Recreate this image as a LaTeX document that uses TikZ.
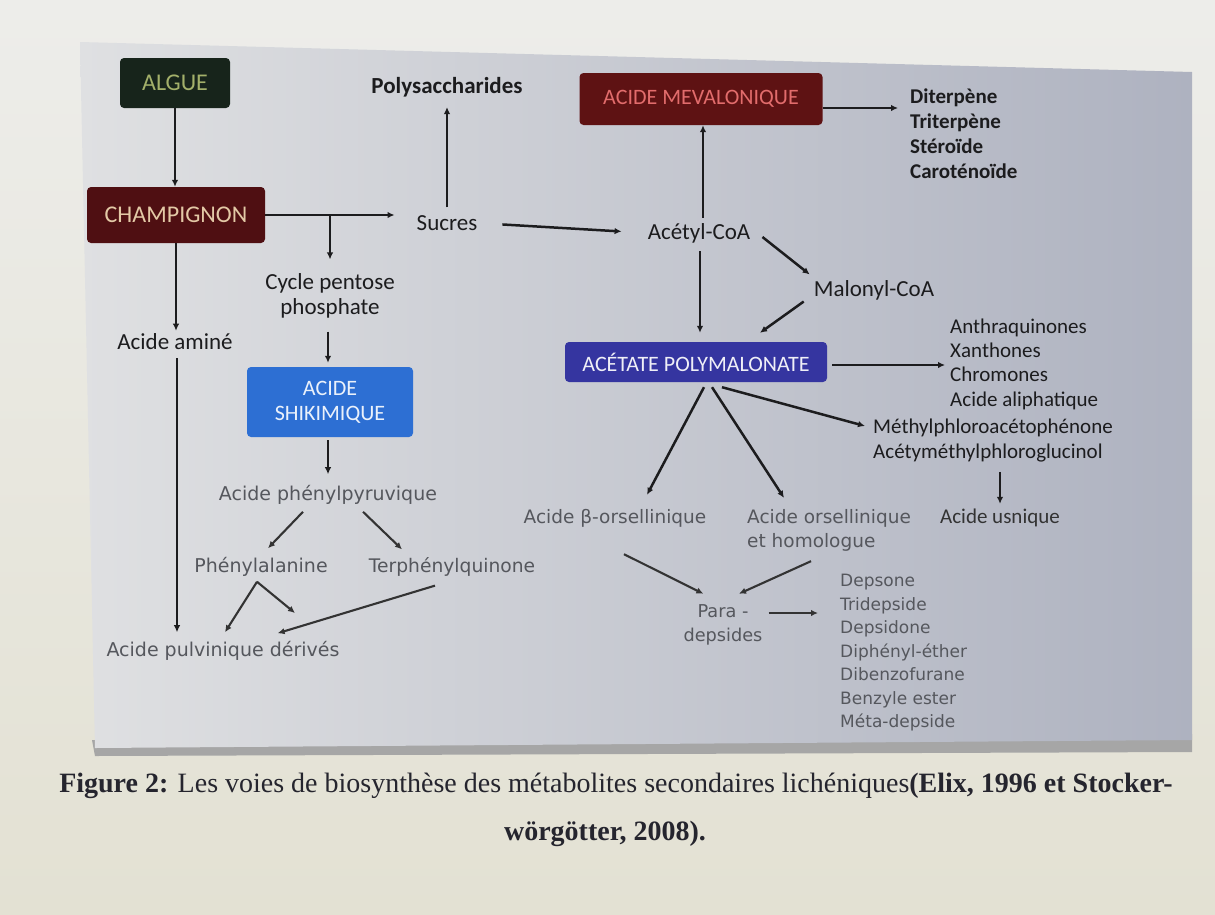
\documentclass[tikz,border=0pt]{standalone}
\usepackage{fontspec}
\setmainfont{Carlito}
\newfontfamily\dvs{DejaVu Sans}
\newfontfamily\capfont{Liberation Serif}
\usetikzlibrary{arrows.meta}
\definecolor{outtop}{HTML}{EDEDEA}
\definecolor{outbot}{HTML}{E3E1D3}
\definecolor{panL}{HTML}{DFE0E2}
\definecolor{panR}{HTML}{AEB2C0}
\definecolor{algfill}{HTML}{17241B}
\definecolor{algtext}{HTML}{A3B06A}
\definecolor{chfill}{HTML}{4F0F12}
\definecolor{chtext}{HTML}{E3C9A6}
\definecolor{mevfill}{HTML}{5E1213}
\definecolor{mevtext}{HTML}{E26C6C}
\definecolor{acpfill}{HTML}{3535A0}
\definecolor{shikfill}{HTML}{2D6FD3}
\definecolor{darktxt}{HTML}{1C1C1E}
\definecolor{greytxt}{HTML}{55575D}
\definecolor{captxt}{HTML}{25252E}
\begin{document}
\begin{tikzpicture}[x=1pt,y=-1pt,
  box/.style={rounded corners=4pt, inner sep=0pt, align=center},
  lbl/.style={inner sep=0pt, text=darktxt, font=\fontsize{23pt}{25pt}\selectfont, align=center},
  blbl/.style={inner sep=0pt, text=darktxt, font=\fontsize{23pt}{25pt}\selectfont\bfseries},
  lst/.style={inner sep=0pt, text=darktxt, align=left},
  glbl/.style={inner sep=0pt, text=greytxt, font=\dvs\fontsize{19pt}{24pt}\selectfont, align=left},
  arr/.style={line width=2.5pt, draw=darktxt, -{Latex[length=7pt,width=6.5pt]}},
  garr/.style={line width=2.1pt, draw=black!80, -{Latex[length=7pt,width=6.5pt]}}
]
\useasboundingbox (0,0) rectangle (1215,914);
% background (screen photo)
\shade[top color=outtop, bottom color=outbot] (0,0) rectangle (1215,914);
\fill[black!35] (92,740) -- (1192,734) -- (1192,752) -- (95,756) -- cycle;
\shade[left color=panL, right color=panR] (80,42) -- (1192,72) -- (1192,740) -- (95,748) -- cycle;

% boxes
\node[box, fill=algfill, text=algtext, minimum width=110pt, minimum height=50pt,
      font=\fontsize{24pt}{26pt}\selectfont] (algue) at (175,83) {ALGUE};
\node[box, fill=chfill, text=chtext, minimum width=178pt, minimum height=56pt,
      font=\fontsize{24pt}{26pt}\selectfont] (champ) at (176,215) {CHAMPIGNON};
\node[box, fill=mevfill, text=mevtext, minimum width=243pt, minimum height=52pt,
      font=\fontsize{22pt}{24pt}\selectfont] (mev) at (701,99) {ACIDE MEVALONIQUE};
\node[box, fill=acpfill, text=white!92!acpfill, minimum width=262pt, minimum height=40pt,
      font=\fontsize{22pt}{24pt}\selectfont] (acp) at (696,362) {ACÉTATE POLYMALONATE};
\node[box, fill=shikfill, text=white!90!shikfill, minimum width=166pt, minimum height=70pt,
      font=\fontsize{22pt}{25pt}\selectfont] (shik) at (330,402) {ACIDE\\SHIKIMIQUE};

% upper labels
\node[blbl] (poly) at (447,87) {Polysaccharides};
\node[lbl] (sucres) at (447,223) {Sucres};
\node[lbl] (acetyl) at (699,233) {Acétyl-CoA};
\node[lbl] (malonyl) at (874,290) {Malonyl-CoA};
\node[lbl] (cycle) at (330,296) {Cycle pentose\\phosphate};
\node[lbl] (amine) at (175,342) {Acide aminé};
\node[lst, anchor=west, font=\fontsize{21pt}{25pt}\selectfont\bfseries] (diterp) at (910,134)
  {Diterpène\\Triterpène\\Stéroïde\\Caroténoïde};
\node[lst, anchor=west, font=\fontsize{21pt}{24.3pt}\selectfont] (anthra) at (950,364)
  {Anthraquinones\\Xanthones\\Chromones\\Acide aliphatique};
\node[lst, anchor=west, font=\fontsize{21pt}{25pt}\selectfont] (methyl) at (873,441)
  {Méthylphloroacétophénone\\Acétyméthylphloroglucinol};
\node[lst, text=black!80, font=\fontsize{21pt}{25pt}\selectfont] (usnique) at (1000,518) {Acide usnique};

% lower grey labels
\node[glbl, font=\dvs\fontsize{18.5pt}{24pt}\selectfont] (borsel) at (615,518) {Acide β-orsellinique};
\node[glbl, anchor=west, font=\dvs\fontsize{18.5pt}{24pt}\selectfont] (orsel) at (747,530) {Acide orsellinique\\et homologue};
\node[glbl, align=center, font=\dvs\fontsize{17.7pt}{23.5pt}\selectfont] (para) at (723,625) {Para -\\depsides};
\node[glbl, anchor=west, font=\dvs\fontsize{17pt}{23.5pt}\selectfont] (deps) at (840,653)
  {Depsone\\Tridepside\\Depsidone\\Diphényl-éther\\Dibenzofurane\\Benzyle ester\\Méta-depside};
\node[glbl] (phpyr) at (328,495) {Acide phénylpyruvique};
\node[glbl] (phal) at (261,567) {Phénylalanine};
\node[glbl, font=\dvs\fontsize{18.7pt}{24pt}\selectfont] (terph) at (452,567) {Terphénylquinone};
\node[glbl] (pulv) at (223,651) {Acide pulvinique dérivés};
\coordinate (phx) at (295,613);

% connectors - upper part
\draw[arr] (algue.south) -- (algue.south |- champ.north);
\draw[arr, shorten >=22pt] (champ.east) -- (champ.east -| sucres.west);
\coordinate (br) at (champ.east -| cycle.north);
\draw[arr] (br) -- ([yshift=14pt]cycle.north);
\draw[arr, shorten <=8pt, shorten >=10pt] (sucres.north) -- (poly.south);
\draw[arr, shorten <=25pt, shorten >=26pt] (sucres.east) -- (acetyl.west);
\draw[arr, shorten <=5pt] ([xshift=4pt]acetyl.north) -- ([xshift=4pt]acetyl.north |- mev.south);
\draw[arr, shorten <=8pt, shorten >=9pt] ([xshift=1pt]acetyl.south) -- ([xshift=1pt]acetyl.south |- acp.north);
\draw[arr] ([xshift=12pt,yshift=-4pt]acetyl.east) -- ([xshift=-4pt,yshift=5.5pt]malonyl.north west);
\draw[arr] ([xshift=-10pt,yshift=-1.5pt]malonyl.south west) -- ([xshift=64pt,yshift=9pt]acp.north);
\draw[arr, shorten >=12pt] ([yshift=-9pt]mev.east) -- ([yshift=-9pt]mev.east -| diterp.west);
\draw[arr, shorten <=5pt, shorten >=5pt] ([yshift=-3pt]acp.east) -- ([yshift=-3pt]acp.east -| anthra.west);
\draw[arr] ([xshift=26pt,yshift=-5pt]acp.south) -- ([xshift=-8pt,yshift=15pt]methyl.west);
\draw[arr, shorten <=9pt, shorten >=5pt] (usnique.north |- methyl.south) -- (usnique.north);
\draw[arr, shorten >=3pt] (champ.south) -- (champ.south |- amine.north);
\draw[arr, shorten <=8pt, shorten >=9pt] ([xshift=2pt]amine.south) -- ([xshift=2pt]amine.south |- pulv.north);
\draw[arr, shorten <=13pt, shorten >=4pt] ([xshift=-2pt]cycle.south) -- ([xshift=-2pt]cycle.south |- shik.north);
\draw[arr, shorten <=3pt, shorten >=11pt] ([xshift=-2pt]shik.south) -- ([xshift=-2pt]shik.south |- phpyr.north);

% connectors - acetate branch
\draw[arr] ([xshift=8pt,yshift=-5pt]acp.south) -- ([xshift=32pt,yshift=14pt]borsel.north);
\draw[arr] ([xshift=16pt,yshift=-5pt]acp.south) -- ([xshift=37pt,yshift=11pt]orsel.north west);
\draw[garr] ([xshift=9pt,yshift=-27pt]borsel.south) -- ([xshift=20pt,yshift=11pt]para.north west);
\draw[garr] ([xshift=-18pt,yshift=-10pt]orsel.south) -- ([xshift=16pt,yshift=11pt]para.north);
\draw[garr, shorten <=6pt, shorten >=22pt] ([yshift=12pt]para.east) -- ([yshift=12pt]para.east -| deps.west);

% connectors - shikimate branch
\draw[garr] ([xshift=-25pt,yshift=-7pt]phpyr.south) -- ([xshift=7pt,yshift=9pt]phal.north);
\draw[garr] ([xshift=35pt,yshift=-7pt]phpyr.south) -- ([xshift=-50pt,yshift=8pt]terph.north);
\draw[garr] ([xshift=-4pt,yshift=-5pt]phal.south) -- ([xshift=2pt,yshift=9pt]pulv.north);
\draw[garr] ([xshift=-4pt,yshift=-5pt]phal.south) -- (phx);
\draw[garr] ([xshift=-17pt,yshift=-9pt]terph.south) -- ([xshift=-62pt,yshift=8pt]pulv.north east);

% caption
\node[inner sep=0pt, text=captxt, font=\capfont\fontsize{28pt}{32pt}\selectfont] (cap1) at (616,786)
  {\textbf{Figure 2:} Les voies de biosynthèse des métabolites secondaires lichéniques\textbf{(Elix, 1996 et Stocker-}};
\node[inner sep=0pt, text=captxt, font=\capfont\fontsize{28pt}{32pt}\selectfont\bfseries] (cap2) at (605,834)
  {wörgötter, 2008).};
\end{tikzpicture}
\end{document}
